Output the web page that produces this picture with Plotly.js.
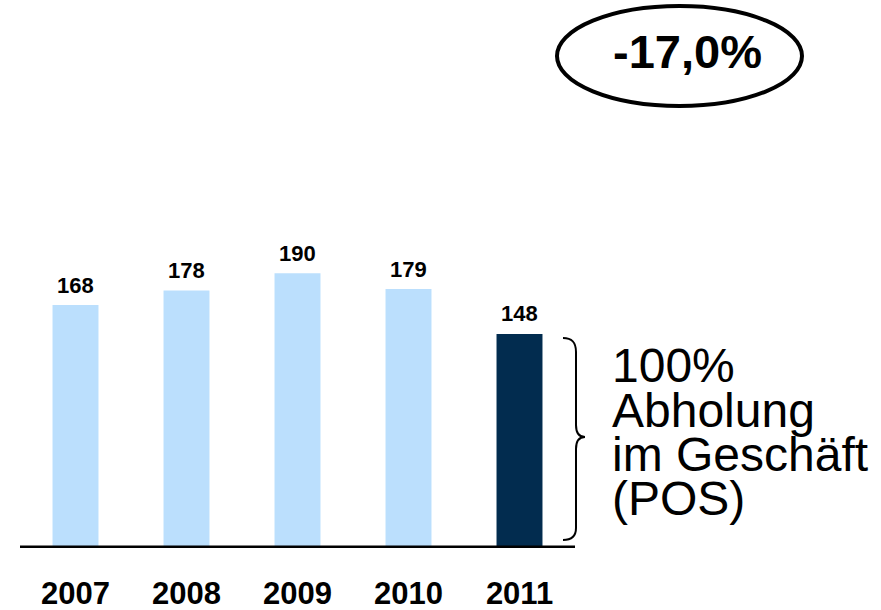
<!DOCTYPE html>
<html><head><meta charset="utf-8">
<script src="https://cdn.plot.ly/plotly-3.0.1.min.js"></script>
<style>html,body{margin:0;padding:0;background:#fff}</style>
</head><body><div id="chart" style="width:881px;height:610px"></div>
<script>
const years = ['2007','2008','2009','2010','2011'];
const values = [168,178,190,179,148];
const barColors = ['#bbdffd','#bbdffd','#bbdffd','#bbdffd','#022c4f'];
const changeLabel = '-17,0%';
const bracketLines = ['100%','Abholung','im Geschäft','(POS)'];

const W=881,H=610, M={l:20,r:306,t:10,b:62};
const PW=W-M.l-M.r, PH=H-M.t-M.b;
const px = x => (x-M.l)/PW;
const py = y => (H-M.b-y)/PH;
const FONT = 'Arial, "Liberation Sans", sans-serif';

const trace = {
  type:'bar', x:years, y:values, width:0.414,
  marker:{color:barColors, line:{width:0}},
  hoverinfo:'none', cliponaxis:false
};

const annotations = values.map((v,i)=>({
  x:i, y:v, xref:'x', yref:'y', text:String(v), showarrow:false,
  xanchor:'center', yanchor:'middle', yshift:20, font:{family:FONT,size:22,color:'#000',weight:'bold'}
}));
annotations.push({
  x:px(687), y:py(51.5), xref:'paper', yref:'paper', text:changeLabel, showarrow:false,
  xanchor:'center', yanchor:'middle', font:{family:FONT,size:47,color:'#000',weight:'bold'}
});
const baselines=[382,427,472,515];
bracketLines.forEach((t,i)=>{
  annotations.push({
    x:px(610), y:py(baselines[i]-17), xref:'paper', yref:'paper', text:t, showarrow:false,
    xanchor:'left', yanchor:'middle', font:{family:FONT,size:48,color:'#000'}
  });
});

function P(x,y){return px(x).toFixed(5)+','+py(y).toFixed(5);}
const bracePath = 'M'+P(563,338)+' C'+P(572,338)+' '+P(576,342)+' '+P(576,352)+
  ' L'+P(576,425)+' C'+P(576,433)+' '+P(579,437)+' '+P(585,437)+
  ' C'+P(579,437)+' '+P(576,441)+' '+P(576,449)+
  ' L'+P(576,528)+' C'+P(576,536)+' '+P(572,540)+' '+P(563,540);

const layout = {
  width:W, height:H, margin:M, paper_bgcolor:'#fff', plot_bgcolor:'#fff',
  showlegend:false, bargap:0.586,
  font:{family:FONT},
  xaxis:{type:'category', range:[-0.5,4.5], showline:false, showgrid:false, zeroline:false,
    ticks:'', ticklabelstandoff:24, tickfont:{family:FONT,size:31,color:'#000',weight:'bold'}},
  yaxis:{range:[0,372], visible:false, showgrid:false, zeroline:false},
  shapes:[
    {type:'line', xref:'paper', yref:'y', x0:0, x1:1, y0:0, y1:0, line:{color:'#000',width:5}, layer:'above'},
    {type:'circle', xref:'paper', yref:'paper', x0:px(557), x1:px(802), y0:py(106), y1:py(6), line:{color:'#000',width:4}},
    {type:'path', xref:'paper', yref:'paper', path:bracePath, line:{color:'#000',width:2}}
  ],
  annotations:annotations
};
Plotly.newPlot('chart',[trace],layout,{displayModeBar:false,staticPlot:true});
</script></body></html>
